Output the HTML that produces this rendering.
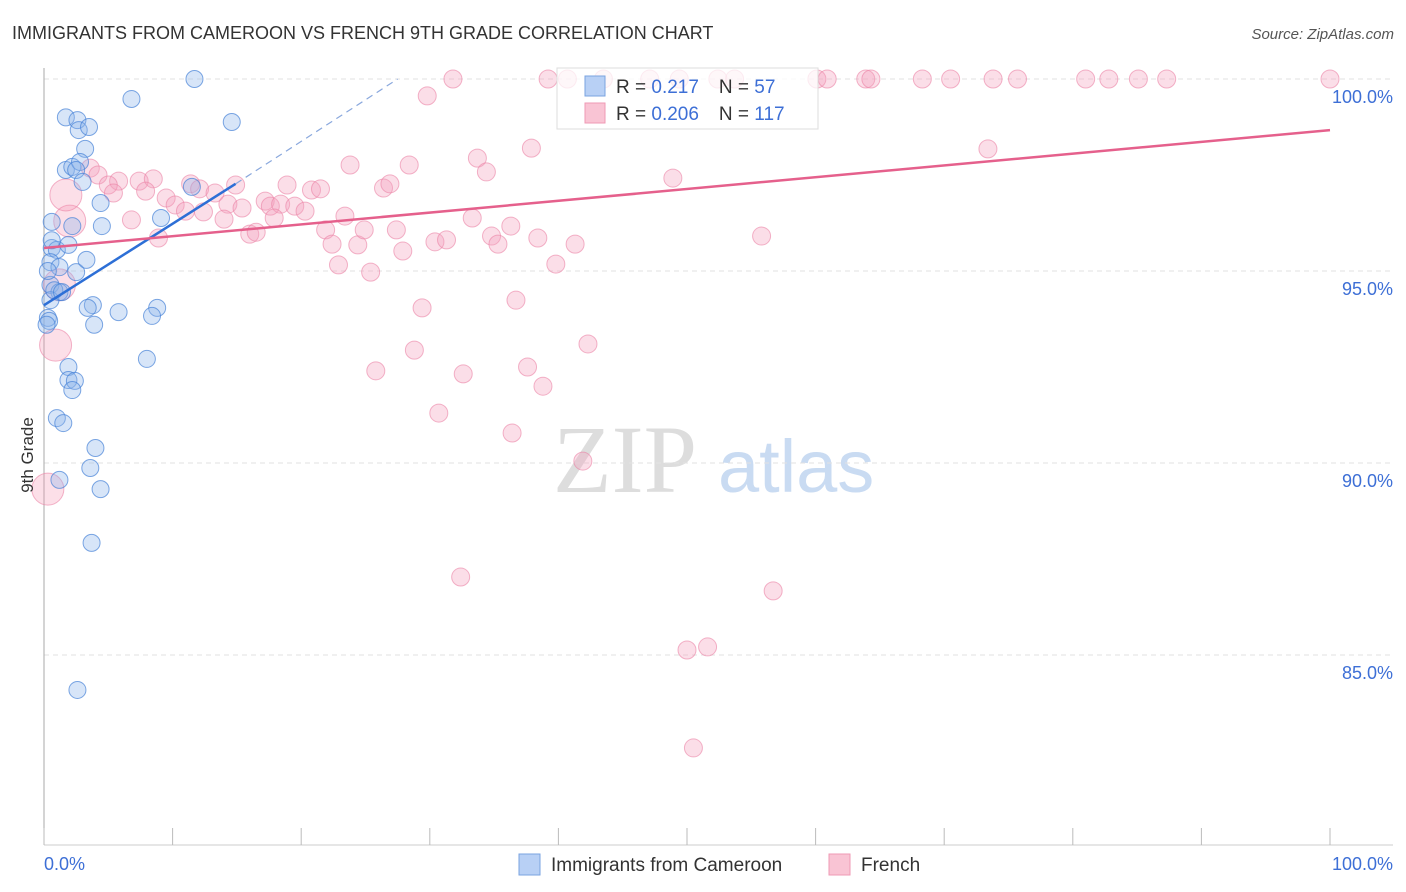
<!DOCTYPE html>
<html><head><meta charset="utf-8">
<style>
body{margin:0;background:#fff;font-family:"Liberation Sans",sans-serif;}
svg{display:block}
</style></head>
<body>
<svg id="chart" width="1406" height="892" xmlns="http://www.w3.org/2000/svg">
<text x="12" y="39" font-size="18" fill="#333">IMMIGRANTS FROM CAMEROON VS FRENCH 9TH GRADE CORRELATION CHART</text>
<text x="1394" y="39" font-size="15" fill="#555" font-style="italic" text-anchor="end">Source: ZipAtlas.com</text>
<g>
<text x="553" y="492" font-size="96" font-family="Liberation Serif,serif" fill="#ddd">ZIP</text>
<text x="718" y="492" font-size="74" fill="#c9dbf2">atlas</text>
</g>
<g id="grid"></g>
<g id="points"></g>
<g id="lines"></g>
<text transform="translate(33,455) rotate(-90)" font-size="17" fill="#333" text-anchor="middle">9th Grade</text>
<g>
<rect x="557" y="68" width="261" height="61" fill="rgba(255,255,255,0.75)" stroke="#ddd"/>
<rect x="585" y="76" width="20" height="20" fill="#b8d0f5" stroke="#7aa3e0"/>
<rect x="585" y="103" width="20" height="20" fill="#f9c4d4" stroke="#ef9ab4"/>
<text x="616" y="93" font-size="19" fill="#333">R = <tspan fill="#3d6fd6">0.217</tspan><tspan dx="20">N = </tspan><tspan fill="#3d6fd6">57</tspan></text>
<text x="616" y="120" font-size="19" fill="#333">R = <tspan fill="#3d6fd6">0.206</tspan><tspan dx="20">N = </tspan><tspan fill="#3d6fd6">117</tspan></text>
</g>
<g>
<rect x="519" y="854" width="21" height="21" fill="#b8d0f5" stroke="#7aa3e0"/>
<text x="551" y="871" font-size="19" fill="#333">Immigrants from Cameroon</text>
<rect x="829" y="854" width="21" height="21" fill="#f9c4d4" stroke="#ef9ab4"/>
<text x="861" y="871" font-size="19" fill="#333">French</text>
</g>
</svg>
<script>
const yTicks=[100,95,90,85];
const yTickLabels=["100.0%","95.0%","90.0%","85.0%"];
const xTickVals=[0,10,20,30,40,50,60,70,80,90,100];
const blueX=[11.7,6.8,14.6,1.7,2.6,2.7,3.5,3.2,1.7,2.2,2.8,2.5,3.0,4.4,11.5,0.6,2.2,4.5,9.1,0.6,1.0,1.9,0.5,1.2,2.5,3.3,0.5,1.2,0.5,3.8,3.4,5.8,8.8,8.4,3.9,0.3,8.0,1.9,1.9,2.4,2.2,1.0,1.5,4.0,3.6,4.4,1.2,3.7,2.6,0.3,0.4,0.8,1.4,0.2,0.6];
const blueY=[100,99.48,98.88,99.0,98.93,98.67,98.75,98.18,97.63,97.71,97.84,97.63,97.32,96.77,97.19,96.28,96.17,96.17,96.38,95.6,95.55,95.68,95.23,95.1,94.97,95.29,94.64,94.45,94.24,94.11,94.04,93.93,94.04,93.83,93.6,93.78,92.71,92.5,92.16,92.14,91.9,91.17,91.04,90.39,89.87,89.32,89.56,87.92,84.09,95.0,93.7,94.5,94.45,93.6,95.8];
const pinkX=[31.8,39.2,40.7,43.5,47.1,49.4,52.4,53.7,60.1,60.9,63.9,64.3,68.3,70.5,73.8,75.7,81.0,82.8,85.1,87.3,100,29.8,37.9,33.7,34.4,23.8,28.4,48.9,73.4,55.8,3.6,4.2,5.8,5.0,7.4,8.5,7.9,5.4,11.4,12.1,9.5,10.2,11.0,12.4,13.3,14.9,14.3,15.4,14.0,6.8,8.9,16.0,16.5,17.2,17.6,18.9,18.4,19.5,20.3,20.8,21.5,17.9,21.9,23.4,22.4,24.4,24.9,22.9,25.4,26.4,26.9,27.4,27.9,30.4,31.3,33.3,34.8,36.3,35.3,38.4,39.8,41.3,36.7,29.4,28.8,25.8,32.6,37.6,38.8,42.3,30.7,36.4,41.9,32.4,56.7,50.0,51.6,50.5];
const pinkY=[100,100,100,100,100,100,100,100,100,100,100,100,100,100,100,100,100,100,100,100,100,99.56,98.2,97.94,97.58,97.76,97.76,97.42,98.18,95.91,97.68,97.5,97.34,97.24,97.34,97.4,97.08,97.03,97.27,97.14,96.9,96.72,96.56,96.54,97.03,97.24,96.74,96.64,96.35,96.33,95.86,95.96,96.01,96.82,96.69,97.24,96.74,96.69,96.56,97.11,97.14,96.38,96.07,96.43,95.7,95.68,96.07,95.16,94.97,97.16,97.27,96.07,95.52,95.76,95.81,96.38,95.91,96.17,95.7,95.86,95.18,95.7,94.24,94.04,92.94,92.4,92.32,92.5,92.0,93.1,91.3,90.78,90.05,87.03,86.67,85.13,85.21,82.58];
const pinkBigX=[2.0,1.7,0.9,0.3,1.2];
const pinkBigY=[96.3,96.98,93.07,89.32,94.64];
const blueTrendX=[0,14.9];
const blueTrendY=[94.11,97.27];
const blueDashX=[14.9,27.5];
const blueDashY=[97.27,100];
const pinkTrendX=[0,100];
const pinkTrendY=[95.6,98.67];

const NS="http://www.w3.org/2000/svg";
const sx=v=>44+v*12.86;
const sy=v=>79+(100-v)*38.4;
function mk(tag,attrs,parent){const e=document.createElementNS(NS,tag);for(const k in attrs)e.setAttribute(k,attrs[k]);parent.appendChild(e);return e;}
const grid=document.getElementById('grid');
yTicks.forEach((t,i)=>{
  const l=mk('line',{x1:44,x2:1393,y1:sy(t),y2:sy(t),stroke:'#e2e2e2','stroke-dasharray':'5,4'},grid);
  
  
  const tx=mk('text',{x:1393,y:sy(t)+24,'font-size':18,fill:'#3d6fd6','text-anchor':'end'},grid);
  tx.textContent=yTickLabels[i];
  
  
});
const ax=mk('line',{x1:44,x2:1393,y1:845,y2:845,stroke:'#ccc'},grid);


const ay=mk('line',{x1:44,x2:44,y1:68,y2:845,stroke:'#aaa'},grid);


xTickVals.forEach(v=>{
  const t=mk('line',{x1:sx(v),x2:sx(v),y1:828,y2:845,stroke:'#bbb'},grid);
  
  
});
const xl0=mk('text',{x:44,y:870,'font-size':18,fill:'#3d6fd6'},grid);xl0.textContent='0.0%';


const xl1=mk('text',{x:1393,y:870,'font-size':18,fill:'#3d6fd6','text-anchor':'end'},grid);xl1.textContent='100.0%';



const pts=document.getElementById('points');
pinkBigX.forEach((x,i)=>{
  const c=mk('circle',{cx:sx(x),cy:sy(pinkBigY[i]),r:16,fill:'rgba(244,150,180,0.3)',stroke:'rgba(235,130,165,0.6)'},pts);
  
  
});
pinkX.forEach((x,i)=>{
  const c=mk('circle',{cx:sx(x),cy:sy(pinkY[i]),r:9,fill:'rgba(244,160,188,0.35)',stroke:'rgba(235,130,165,0.6)'},pts);
  
  
});
blueX.forEach((x,i)=>{
  const c=mk('circle',{cx:sx(x),cy:sy(blueY[i]),r:8.5,fill:'rgba(140,180,235,0.35)',stroke:'rgba(70,130,215,0.7)'},pts);
  
  
});
const lines=document.getElementById('lines');
const bl=mk('line',{x1:sx(blueTrendX[0]),y1:sy(blueTrendY[0]),x2:sx(blueTrendX[1]),y2:sy(blueTrendY[1]),stroke:'#2d6fd6','stroke-width':2.5},lines);


const bd=mk('line',{x1:sx(blueDashX[0]),y1:sy(blueDashY[0]),x2:sx(blueDashX[1]),y2:sy(blueDashY[1]),stroke:'#8aa8dd','stroke-width':1.2,'stroke-dasharray':'7,5'},lines);


const pl=mk('line',{x1:sx(pinkTrendX[0]),y1:sy(pinkTrendY[0]),x2:sx(pinkTrendX[1]),y2:sy(pinkTrendY[1]),stroke:'#e5608c','stroke-width':2.5},lines);


</script>
</body></html>
